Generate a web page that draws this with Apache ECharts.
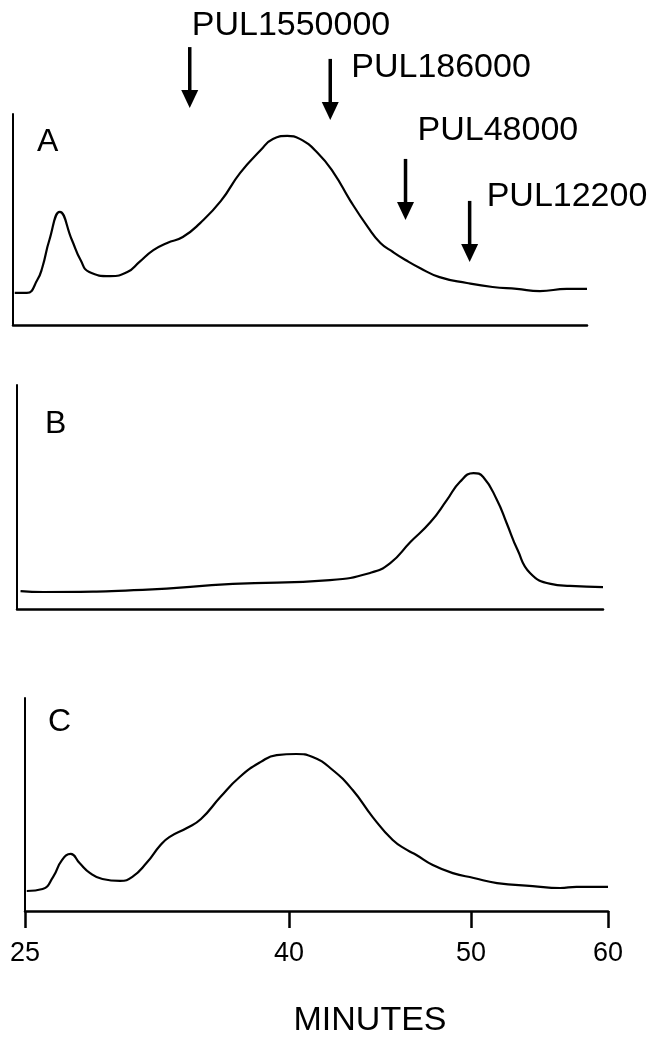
<!DOCTYPE html>
<html>
<head>
<meta charset="utf-8">
<script src="https://cdn.jsdelivr.net/npm/echarts@6/dist/echarts.min.js"></script>
<style>
  html, body { margin: 0; padding: 0; background: #fff; }
  #main { width: 656px; height: 1038px; }
</style>
</head>
<body>
<div id="main"></div>
<script>
// x axis ticks (minutes) and labels
var tickMinutes = [25, 40, 50, 60];
var tickLabels = ['25', '40', '50', '60'];

// panel letters
var panelNames = ['A', 'B', 'C'];

// trace A
var minutesA = [25.1, 25.8, 26.4, 26.7, 27.1, 27.7, 28.4, 28.9, 29.4, 30.6, 31.6, 32.3, 33.1, 33.9, 34.8, 35.8,
    37.0, 38.1, 39.3, 40.0, 40.8, 41.5, 42.5, 43.4, 44.3, 45.3, 46.0, 46.7, 47.4, 48.2, 49.3, 51.1,
    53.0, 54.8, 56.5, 58.5, 60.0];
var signalA = [15.2, 15.2, 21.3, 27.5, 40.3, 53.6, 40.3, 30.8, 25.1, 23.2, 25.1, 29.9, 35.5, 38.9, 41.7, 48.3,
    58.8, 72.0, 82.9, 88.2, 89.6, 88.2, 81.5, 72.0, 59.2, 46.4, 38.9, 34.6, 30.8, 27.0, 22.7, 19.9,
    18.0, 17.1, 16.1, 17.1, 17.1];

// trace B
var minutesB = [25.2, 26.5, 32.1, 37.2, 42.6, 44.8, 45.9, 47.0, 48.1, 49.0, 49.7, 50.6, 51.3, 52.3, 53.0,
    53.8, 54.7, 56.2, 57.6, 60.0];
var signalB = [8.0, 7.6, 8.5, 11.2, 12.9, 16.1, 20.5, 29.9, 38.8, 48.7, 56.7, 60.7, 58.9, 48.7, 38.4,
    26.3, 16.1, 11.2, 10.3, 9.8];

// trace C
var minutesC = [25.1, 26.0, 26.6, 27.1, 27.6, 28.1, 28.7, 29.4, 30.4, 31.1, 31.9, 32.7, 33.2, 34.2, 35.0,
    36.1, 37.2, 38.4, 39.3, 40.4, 41.3, 42.4, 43.5, 44.6, 45.7, 46.5, 47.0, 47.9, 49.0, 50.2, 51.9,
    54.5, 56.5, 57.7, 60.0];
var signalC = [9.4, 10.3, 16.0, 23.9, 26.8, 22.5, 17.8, 15.0, 14.1, 16.0, 22.5, 31.0, 34.7, 39.0, 43.2,
    53.5, 62.9, 70.0, 73.2, 73.7, 72.3, 66.2, 56.8, 44.1, 33.3, 28.6, 26.3, 21.6, 17.8, 15.5, 13.1,
    11.7, 10.8, 11.3, 11.3];

// pullulan standards marked on trace A
var standardNames = ['PUL1550000', 'PUL186000', 'PUL48000', 'PUL12200'];
var standardMinutes = [35.2, 43.2, 47.4, 51.3];
var standardLevel = [102.8, 97.2, 49.8, 29.9];

// layout only
var tickPos = [0, 0.4528, 0.765, 1];       // where each tick sits along the axis
var labelDx = [2, 21, 12, 17];
var labelDy = [-82, -52, -89, -65];
var FONT = 'Liberation Sans, Arial, sans-serif';

// the time axis of the figure is not linear: map minutes piecewise between ticks
function warp(m) {
    for (var i = 1; i < tickMinutes.length; i++) {
        if (m <= tickMinutes[i]) {
            var t = (m - tickMinutes[i - 1]) / (tickMinutes[i] - tickMinutes[i - 1]);
            return tickPos[i - 1] + t * (tickPos[i] - tickPos[i - 1]);
        }
    }
    return 1;
}
function pairs(xs, ys) {
    return xs.map(function (m, i) { return [warp(m), ys[i]]; });
}

var grids = [
    { left: 13, right: 69, top: 114, height: 211 },
    { left: 17, right: 53, top: 385, height: 224 },
    { left: 25, right: 48, top: 698, height: 213 }
];

var xAxes = grids.map(function (g, i) {
    var last = i === 2;
    return {
        type: 'value', gridIndex: i, min: 0, max: 1,
        splitLine: { show: false },
        axisLine: { lineStyle: { color: '#000', width: 2.5 } },
        axisTick: {
            show: last, inside: false, length: 17,
            customValues: tickMinutes.map(warp),
            lineStyle: { color: '#000', width: 2.5 }
        },
        axisLabel: {
            show: last, margin: 43, verticalAlign: 'middle',
            customValues: tickMinutes.map(warp),
            color: '#000', fontSize: 27, fontFamily: FONT,
            formatter: function (v) {
                for (var k = 0; k < tickPos.length; k++) {
                    if (Math.abs(warp(tickMinutes[k]) - v) < 1e-6) return tickLabels[k];
                }
                return '';
            }
        }
    };
});

var yAxes = grids.map(function (g, i) {
    return {
        type: 'value', gridIndex: i, min: 0, max: 100,
        splitLine: { show: false },
        axisLine: { show: true, lineStyle: { color: '#000', width: 2 } },
        axisTick: { show: false },
        axisLabel: { show: false }
    };
});

function trace(idx, xs, ys) {
    return {
        type: 'line', xAxisIndex: idx, yAxisIndex: idx,
        data: pairs(xs, ys),
        smooth: 0.5,
        symbol: 'none', silent: true,
        lineStyle: { color: '#000', width: 2.2 }
    };
}

var letterPos = [[37, 142], [45, 424], [48, 722]];

var myChart = echarts.init(document.getElementById('main'));

var option = {
    backgroundColor: '#fff',
    animation: false,
    grid: grids,
    xAxis: xAxes,
    yAxis: yAxes,
    graphic: panelNames.map(function (n, i) {
        return {
            type: 'text', x: letterPos[i][0], y: letterPos[i][1],
            style: { text: n, fontSize: 32, fontFamily: FONT, fill: '#000', verticalAlign: 'middle' }
        };
    }).concat([{
        type: 'text', x: 370, y: 1021,
        style: { text: 'MINUTES', fontSize: 34, fontFamily: FONT, fill: '#000', align: 'center', verticalAlign: 'middle' }
    }]),
    series: [
        trace(0, minutesA, signalA),
        trace(1, minutesB, signalB),
        trace(2, minutesC, signalC),
        {
            type: 'custom', xAxisIndex: 0, yAxisIndex: 0, silent: true, clip: false,
            data: standardMinutes.map(function (m, i) { return [warp(m), standardLevel[i]]; }),
            renderItem: function (params, api) {
                var p = api.coord([api.value(0), api.value(1)]);
                var i = params.dataIndex;
                return {
                    type: 'group',
                    children: [
                        { type: 'line', shape: { x1: p[0], y1: p[1] - 61, x2: p[0], y2: p[1] - 14 },
                          style: { stroke: '#000', lineWidth: 3.5 } },
                        { type: 'polygon', shape: { points: [[p[0] - 8.5, p[1] - 18], [p[0] + 8.5, p[1] - 18], [p[0], p[1]]] },
                          style: { fill: '#000' } },
                        { type: 'text', x: p[0] + labelDx[i], y: p[1] + labelDy[i],
                          style: { text: standardNames[i], fontSize: 34, fontFamily: FONT, fill: '#000', verticalAlign: 'middle' } }
                    ]
                };
            }
        }
    ]
};

myChart.setOption(option);
</script>
</body>
</html>
